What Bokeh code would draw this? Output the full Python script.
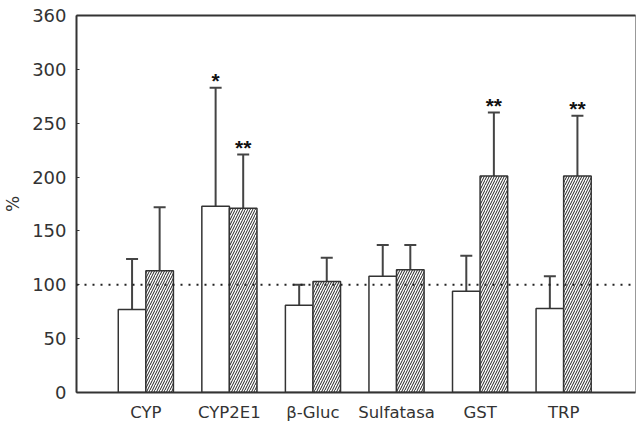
from bokeh.plotting import figure
from bokeh.models import Range1d, FixedTicker, Span, LinearAxis, ColumnDataSource
from bokeh.core.properties import value
from bokeh.embed import file_html
from bokeh.resources import INLINE

categories = ["CYP", "CYP2E1", "β-Gluc", "Sulfatasa", "GST", "TRP"]
white_vals = [77, 173, 81, 108, 94, 78]
white_err = [124, 283, 100, 137, 127, 108]
hatch_vals = [113, 171, 103, 114, 201, 201]
hatch_err = [172, 221, 125, 137, 260, 257]
white_marks = ["", "*", "", "", "", ""]
hatch_marks = ["", "**", "", "", "**", "**"]
y_ticks = [0, 50, 100, 150, 200, 250, 300, 350]
y_tick_labels = ["0", "50", "100", "150", "200", "250", "300", "360"]
reference_level = 100

FONT = "DejaVu Sans"
INK = "#333333"

pos = list(range(1, len(categories) + 1))
bw = 0.33
xw = [p_ - bw / 2 for p_ in pos]
xh = [p_ + bw / 2 for p_ in pos]

p = figure(width=636, height=424, output_backend="svg", toolbar_location=None,
           x_range=Range1d(0.17, 6.86), y_range=Range1d(0, 350),
           min_border_left=75, min_border_right=1, min_border_top=15, min_border_bottom=24)
p.grid.visible = False
p.outline_line_color = "#999999"
p.outline_line_width = 1

src_w = ColumnDataSource(dict(x=xw, top=white_vals, err=white_err, mark=white_marks))
src_h = ColumnDataSource(dict(x=xh, top=hatch_vals, err=hatch_err, mark=hatch_marks))

# error bars (upper only)
for src in (src_w, src_h):
    p.segment(x0="x", y0="top", x1="x", y1="err", source=src, line_color="#444444", line_width=2)
    p.scatter(x="x", y="err", source=src, marker="dash", size=12, line_color="#444444", line_width=2)

p.vbar(x="x", top="top", bottom=0, width=bw, source=src_w, fill_color="white",
       line_color=INK, line_width=1.5)
p.vbar(x="x", top="top", bottom=0, width=bw, source=src_h, fill_color="white",
       line_color=INK, line_width=1.5, hatch_pattern="/", hatch_scale=5,
       hatch_weight=1, hatch_color="#222222")

for src in (src_w, src_h):
    p.text(x="x", y="err", text="mark", source=src, text_align="center", text_baseline="middle",
           y_offset=-7, text_font=value("Liberation Sans"), text_font_size="21px",
           text_font_style="bold", text_color="#111111")

p.add_layout(Span(location=reference_level, dimension="width", line_color="#222222",
                  line_width=2, line_dash="2 6"))

p.xaxis.ticker = FixedTicker(ticks=pos)
p.xaxis.major_label_overrides = {p_: c for p_, c in zip(pos, categories)}
p.yaxis.ticker = FixedTicker(ticks=y_ticks)
p.yaxis.major_label_overrides = {t: l for t, l in zip(y_ticks, y_tick_labels)}
p.yaxis.axis_label = "%"

for ax in (p.xaxis[0], p.yaxis[0]):
    ax.axis_line_color = INK
    ax.axis_line_width = 2
    ax.major_label_text_font = FONT
    ax.major_label_text_color = INK
    ax.minor_tick_line_color = None
p.xaxis.major_tick_line_color = None
p.xaxis.major_label_text_font_size = "16.5px"
p.xaxis.major_label_standoff = 4
p.yaxis.major_tick_in = 3
p.yaxis.major_tick_out = 0
p.yaxis.major_tick_line_color = INK
p.yaxis.major_label_text_font_size = "18px"
p.yaxis.major_label_standoff = 10
p.yaxis.axis_label_text_font = FONT
p.yaxis.axis_label_text_font_size = "17px"
p.yaxis.axis_label_text_font_style = "normal"
p.yaxis.axis_label_text_color = INK
p.yaxis.axis_label_standoff = 6

top_axis = LinearAxis(ticker=FixedTicker(ticks=[]), axis_line_color=INK, axis_line_width=2,
                      major_label_text_font_size="0px", major_tick_line_color=None,
                      minor_tick_line_color=None)
p.add_layout(top_axis, "above")

open("out.html", "w").write(file_html(p, INLINE))
